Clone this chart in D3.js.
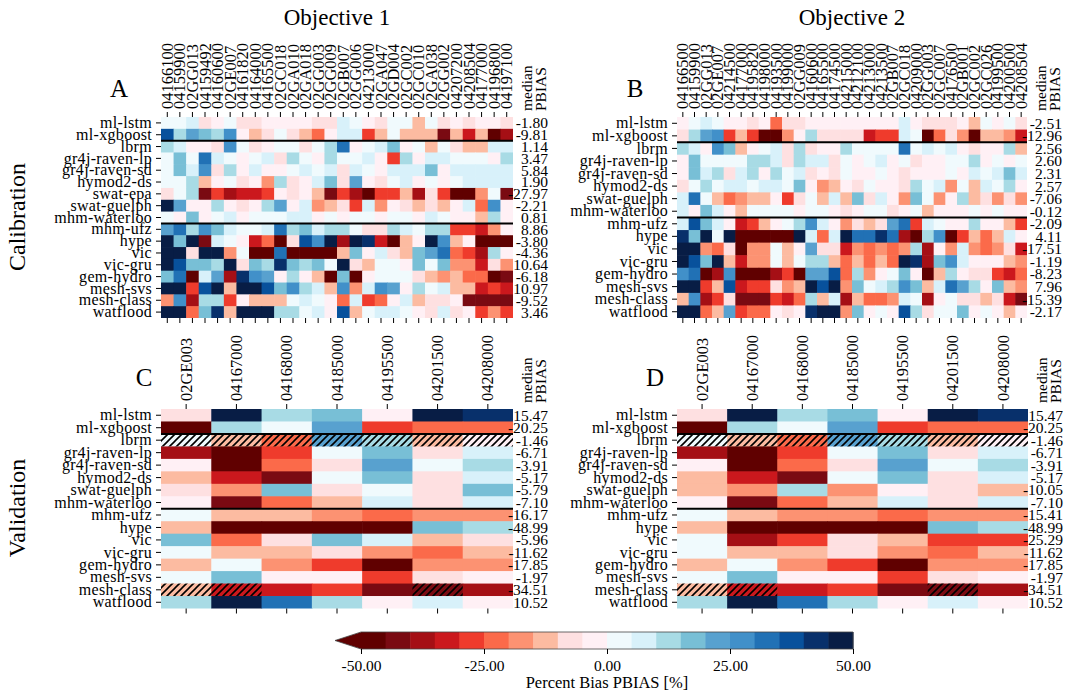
<!DOCTYPE html>
<html><head><meta charset="utf-8">
<script src="https://cdn.jsdelivr.net/npm/d3@7"></script>
<style>body{margin:0;background:#fff} svg text{font-family:"Liberation Serif","DejaVu Serif",serif;}</style>
</head><body><svg id="c" width="1066" height="696"></svg>
<script>
const modelsCal = ["ml-lstm","ml-xgboost","lbrm","gr4j-raven-lp","gr4j-raven-sd","hymod2-ds","swat-epa","swat-guelph","mhm-waterloo","mhm-ufz","hype","vic","vic-gru","gem-hydro","mesh-svs","mesh-class","watflood"];
const modelsVal = ["ml-lstm","ml-xgboost","lbrm","gr4j-raven-lp","gr4j-raven-sd","hymod2-ds","swat-guelph","mhm-waterloo","mhm-ufz","hype","vic","vic-gru","gem-hydro","mesh-svs","mesh-class","watflood"];
const stationsA = ["04166100","04159900","02GG013","04159492","04160600","02GE007","04161820","04164000","04165500","02GC018","02GA010","02GA018","02GG003","02GG009","02GB007","02GG006","04213000","02GA047","02GD004","02GC002","02GC010","02GA038","02GG002","04207200","04208504","04177000","04196800","04197100"];
const stationsB = ["04166500","04159900","02GG013","02GE007","04214500","04177000","04195820","04198000","04193500","04199000","02GG009","04160600","04165500","04174500","04215000","04212100","04213000","04213500","02GB007","02GC018","04209000","02GG003","02GC007","04176500","02GB001","02GC002","02GC026","04199500","04200500","04208504"];
const stationsVal = ["02GE003","04167000","04168000","04185000","04195500","04201500","04208000"];

const pbiasA = [
[3,3,8,-7,-2,3,-7,-7,-2,-2,-2,-2,-7,-7,8,3,-2,-7,3,3,-12,3,-7,-2,-7,-2,-2,-7],
[38,13,23,18,13,28,-2,-12,-7,3,-7,-12,-22,-2,8,8,-27,-12,3,-12,-12,-12,-42,-12,-32,-12,-47,-37],
[13,8,-2,-2,-7,28,3,-7,-2,3,3,-7,3,13,33,-2,3,8,18,-2,3,-12,3,-7,-12,-12,8,8],
[3,18,3,33,8,3,-2,3,8,-7,13,3,-2,13,3,3,8,-2,-27,13,-2,8,8,3,3,3,-2,13],
[3,18,8,28,-7,13,-2,8,-2,-2,3,8,3,8,-7,8,3,-2,8,8,8,18,-2,8,8,8,8,8],
[3,3,13,-12,-2,3,-7,-2,-17,13,-7,-2,8,18,-7,23,-2,-7,3,8,-2,3,-2,3,8,8,8,8],
[-7,3,13,-42,-27,-37,-32,-32,-27,-2,-7,-2,-12,-42,-27,-37,-47,-27,-27,-12,-37,-7,-27,-47,-47,-17,3,-42],
[48,23,-2,-2,13,-2,-7,-2,13,23,-2,8,-17,-12,-7,-27,8,-17,-2,-7,-12,-7,-12,-2,8,-22,28,-2],
[3,-2,18,-2,3,8,-2,3,3,3,8,8,-2,3,-2,3,3,-2,3,3,-2,8,3,-2,-2,-12,13,-2],
[23,33,13,28,18,8,3,3,8,33,13,18,8,13,13,3,-7,-7,13,8,3,13,13,-27,-27,-32,-17,-2],
[48,18,48,-42,8,3,-2,-32,-22,-47,-7,38,28,48,-37,48,43,-32,-47,-12,-2,48,28,-12,-2,-47,-47,-47],
[48,48,-7,48,48,-17,3,-47,-47,33,-47,-47,-47,-47,-12,18,-2,8,-7,-12,18,23,33,-22,-27,-37,13,-2],
[48,38,18,18,13,48,-7,18,13,43,18,13,18,3,48,-7,-12,3,3,-2,18,3,18,-17,-17,-32,-7,-17],
[18,33,-47,8,23,-37,43,28,23,-2,13,-2,-12,-47,18,-47,-2,3,3,3,-7,-12,-17,-12,-22,-22,-47,-42],
[48,48,-27,38,48,-12,48,48,38,18,28,13,8,-12,28,-17,8,28,23,-2,13,3,8,-12,-12,-32,-27,-32],
[-17,28,-37,13,13,-27,-2,-12,-12,-12,3,8,3,-2,-22,8,-27,-22,-2,8,-12,-7,-7,-2,-42,-42,-42,-42],
[48,48,-22,18,43,-12,48,48,48,13,13,3,8,-2,38,-12,3,8,8,3,-2,-7,8,-7,-2,-27,-17,-27]];

const pbiasB = [
[-2,3,8,3,-2,-2,-7,-2,-22,-7,-7,-2,-2,-2,-2,-2,-2,-2,-2,8,-2,-7,-7,-7,-2,-12,3,-2,3,-7],
[-7,13,23,28,-27,-12,-27,-47,-47,-17,-2,13,-7,-7,-7,-7,-32,-27,-27,8,3,-47,-22,-7,-17,-47,-12,-12,-17,-32],
[13,8,-2,28,18,-12,-2,3,8,-7,13,-7,-2,-2,13,3,3,3,3,33,3,8,3,8,-2,-7,-2,-2,13,-12],
[-2,18,3,3,3,3,13,13,8,-7,13,8,8,-7,3,-2,3,8,-2,3,-7,-2,-2,3,3,13,-2,3,-2,3],
[-2,18,8,13,-7,8,13,-2,13,3,8,-7,-2,-7,3,-2,-2,3,-2,-7,-2,-2,-2,3,-2,8,3,8,18,8],
[-7,3,13,3,8,8,3,8,8,3,18,-2,-17,-12,-2,-7,3,-2,-2,-7,13,3,8,-17,3,-12,8,3,13,-2],
[8,33,3,-12,-22,-17,-12,-12,-2,-27,-7,3,-12,8,-12,18,-7,8,-2,-17,18,3,-17,-2,13,-12,-7,-17,-7,-17],
[8,-2,18,8,-2,-12,3,3,3,3,-2,3,3,-2,-7,-2,3,3,-7,-2,3,-12,-2,-2,-2,3,-2,3,-2,-2],
[8,38,18,8,-2,-32,-27,-12,-2,3,13,28,8,-2,-17,-7,-12,-7,23,33,-27,8,3,-2,-2,13,-2,-2,-12,-27],
[43,18,48,3,48,-47,-47,-47,-47,-47,48,8,-22,8,48,33,33,43,33,-37,-47,13,28,-47,-27,-12,-22,-12,8,-2],
[48,48,-17,-22,-7,-47,-17,-17,3,-12,-2,23,-7,-7,-32,-17,-22,-17,-22,-17,13,-37,-2,-17,8,-17,-22,-17,-7,-32],
[48,38,18,48,-12,-32,-17,-17,3,-12,3,13,13,-12,-22,-12,-22,-12,-22,48,43,-37,18,28,8,-2,-2,-2,-12,-17],
[28,33,-47,-37,28,-47,-47,-47,-37,-27,-47,23,23,38,-22,13,-17,-2,3,18,-2,-47,-12,13,-2,-7,-7,-27,-32,-22],
[48,48,-27,-12,38,-32,-27,-27,-7,-17,-12,48,38,48,-17,18,3,8,13,28,18,-12,8,33,23,13,-2,18,-12,-17],
[-12,28,-37,-27,-7,-42,-42,-42,-27,-32,-22,13,-12,8,-37,-12,-22,-22,-17,8,3,-37,-2,3,-7,-7,-12,-7,-32,-42],
[48,48,-22,-12,23,-27,-22,-22,-2,-7,-2,43,48,48,-17,18,-2,3,-2,38,13,-7,3,3,18,-2,3,-2,-12,-2]];

const pbiasC = [
[-7,48,13,18,-2,48,43],
[-47,13,3,23,-27,-22,-22],
[3,-12,-22,23,13,-12,-2],
[-37,-47,-27,3,18,-7,8],
[-2,-47,-22,-7,23,3,13],
[-12,-32,-42,3,18,-7,8],
[-7,-17,18,-7,3,-7,18],
[-2,-42,-22,-12,8,-7,8],
[3,-12,-12,-17,-22,-17,-17],
[-12,-47,-47,-47,-47,18,13],
[18,-22,-7,18,8,-12,-7],
[3,-12,-12,-7,-17,-22,-12],
[-12,3,-17,-27,-47,-17,-17],
[3,18,-2,-2,-27,-7,-2],
[-12,-32,-32,-27,-42,-42,-37],
[13,48,33,13,-2,8,-2]];

const pbiasD = [
[-7,48,13,18,-2,48,43],
[-47,13,3,23,-27,-22,-22],
[3,-12,-22,23,13,-12,-2],
[-37,-47,-27,3,18,-7,8],
[-2,-47,-22,-7,23,3,13],
[-12,-32,-42,3,18,-7,8],
[-12,-17,13,-17,-2,-7,-12],
[-2,-42,-22,-12,8,-7,8],
[3,-12,-17,-17,-22,-17,-17],
[-12,-47,-47,-47,-47,18,13],
[3,-37,-27,-7,-12,-27,-27],
[3,-12,-12,-7,-17,-22,-12],
[-12,3,-17,-27,-47,-17,-17],
[3,18,-2,-2,-27,-7,-2],
[-12,-32,-32,-27,-42,-42,-37],
[13,48,33,13,-2,8,-2]];

const hatchedVal = [[2,0],[2,1],[2,2],[2,3],[2,4],[2,5],[2,6],[14,0],[14,1],[14,5]];

const medianA = [-1.80,-9.81,1.14,3.47,5.84,1.90,-27.97,-2.21,0.81,8.86,-3.80,-4.36,10.64,-6.18,10.97,-9.52,3.46];
const medianB = [-2.51,-12.96,2.56,2.60,2.31,2.57,-7.06,-0.12,-2.09,4.11,-17.51,-1.19,-8.23,7.96,-15.39,-2.17];
const medianC = [15.47,-20.25,-1.46,-6.71,-3.91,-5.17,-5.79,-7.10,-16.17,-48.99,-5.96,-11.62,-17.85,-1.97,-34.51,10.52];
const medianD = [15.47,-20.25,-1.46,-6.71,-3.91,-5.17,-10.05,-7.10,-15.41,-48.99,-25.29,-11.62,-17.85,-1.97,-34.51,10.52];

const binEdges = [-50,-45,-40,-35,-30,-25,-20,-15,-10,-5,0,5,10,15,20,25,30,35,40,45,50];
const binColors = ["#600000","#7a0a12","#a50f15","#cb181d","#ef3b2c","#fb6a4a","#fc9272","#fcbba1","#fee0e1","#fff0f5","#f0fafd","#d8f1fa","#a8dbe5","#78bfd6","#58a1cf","#4190c9","#2171b5","#08519c","#08306b","#081d45"];
const cbarTicks = [-50,-25,0,25,50];

const FONT = '"Liberation Serif","DejaVu Serif",serif';
const svg = d3.select('#c');
const color = d3.scaleThreshold().domain(binEdges.slice(1, -1)).range(binColors);

const defs = svg.append('defs');
const hp = defs.append('pattern').attr('id','hatch').attr('patternUnits','userSpaceOnUse')
  .attr('width',7).attr('height',7);
hp.append('path').attr('d','M0,7 L7,0 M-1.75,1.75 L1.75,-1.75 M5.25,8.75 L8.75,5.25')
  .attr('stroke','#000').attr('stroke-width',1.6);

function drawPanel(p) {
  const nR = p.rows.length, nC = p.cols.length;
  const x = d3.scaleBand().domain(d3.range(nC)).range([p.x0, p.x0 + p.w]);
  const y = d3.scaleBand().domain(d3.range(nR)).range([p.y0, p.y0 + p.h]);
  const g = svg.append('g');
  const cells = [];
  p.vals.forEach((row, i) => row.forEach((v, j) => cells.push({i, j, v})));
  g.selectAll('rect.cell').data(cells).join('rect').attr('class','cell')
    .attr('x', d => x(d.j)).attr('y', d => y(d.i))
    .attr('width', d => x.bandwidth() + (d.j < nC - 1 ? 0.6 : 0))
    .attr('height', d => y.bandwidth() + (d.i < nR - 1 ? 0.6 : 0))
    .attr('fill', d => color(d.v));
  if (p.hatch) {
    g.selectAll('rect.hatch').data(p.hatch).join('rect').attr('class','hatch')
      .attr('x', d => x(d[1])).attr('y', d => y(d[0]))
      .attr('width', x.bandwidth()).attr('height', y.bandwidth())
      .attr('fill', 'url(#hatch)');
  }
  p.seps.forEach(k => g.append('line')
    .attr('x1', p.x0).attr('x2', p.x0 + p.w).attr('y1', y(k)).attr('y2', y(k))
    .attr('stroke', '#000').attr('stroke-width', 2));

  const al = g.append('g').attr('transform', `translate(${p.x0},0)`)
    .call(d3.axisLeft(y).tickSize(5).tickPadding(4).tickFormat(i => p.rows[i]));
  al.select('.domain').remove();
  al.attr('font-family', null).attr('font-size', null);
  al.selectAll('text').style('font-family', FONT).style('font-size', '16px').style('letter-spacing','0.3px');

  const at = g.append('g').attr('transform', `translate(0,${p.y0})`)
    .call(d3.axisTop(x).tickSize(5).tickFormat(j => p.cols[j]));
  at.select('.domain').remove();
  at.attr('font-family', null).attr('font-size', null);
  at.selectAll('text').attr('transform', 'rotate(-90)').attr('x', 8).attr('y', 0).attr('dy', '0.34em')
    .style('text-anchor', 'start').style('font-family', FONT).style('font-size', '16.5px');

  const ab = g.append('g').attr('transform', `translate(0,${p.y0 + p.h})`)
    .call(d3.axisBottom(x).tickSize(5).tickFormat(''));
  ab.select('.domain').remove();

  g.selectAll('text.med').data(p.meds).join('text').attr('class','med')
    .attr('x', p.x0 + p.w + 35).attr('y', (d, i) => y(i) + y.bandwidth() / 2).attr('dy', '0.35em')
    .attr('text-anchor', 'end').style('font-family', FONT).style('font-size', '15.5px')
    .text(d => d.toFixed(2));

  ["median", "PBIAS"].forEach((t, k) => g.append('text')
    .attr('transform', `translate(${p.x0 + p.w + 14 + k * 14},${p.y0 - 6}) rotate(-90)`)
    .attr('dy', '0.35em').attr('text-anchor', 'start')
    .style('font-family', FONT).style('font-size', '15.5px').text(t));

  g.append('text').attr('x', p.x0 + p.letterDx).attr('y', p.letterY).attr('text-anchor', 'middle')
    .style('font-family', FONT).style('font-size', '25px').text(p.letter);
  if (p.title) g.append('text').attr('x', p.x0 + p.w / 2).attr('y', 25).attr('text-anchor', 'middle')
    .style('font-family', FONT).style('font-size', '23px').text(p.title);
}

drawPanel({x0:161, y0:117, w:352, h:201, rows:modelsCal, cols:stationsA, vals:pbiasA, meds:medianA, seps:[2,9], letter:'A', letterDx:-42, letterY:97, title:'Objective 1'});
drawPanel({x0:677, y0:117, w:350, h:201, rows:modelsVal, cols:stationsB, vals:pbiasB, meds:medianB, seps:[2,8], letter:'B', letterDx:-42, letterY:97, title:'Objective 2'});
drawPanel({x0:161, y0:409, w:352, h:199.5, rows:modelsVal, cols:stationsVal, vals:pbiasC, meds:medianC, seps:[2,8], letter:'C', letterDx:-17, letterY:386, hatch:hatchedVal});
drawPanel({x0:677, y0:409, w:351, h:199.5, rows:modelsVal, cols:stationsVal, vals:pbiasD, meds:medianD, seps:[2,8], letter:'D', letterDx:-22, letterY:386, hatch:hatchedVal});

[["Calibration", 217], ["Validation", 508]].forEach(([t, cy]) => svg.append('text')
  .attr('transform', `translate(25,${cy}) rotate(-90)`).attr('text-anchor', 'middle')
  .style('font-family', FONT).style('font-size', '24px').text(t));

// colorbar
const cb = svg.append('g');
const cx = d3.scaleLinear().domain([-50, 50]).range([361, 853]);
const cbY = 632, cbH = 17;
cb.selectAll('rect').data(d3.range(binColors.length)).join('rect')
  .attr('x', i => cx(binEdges[i])).attr('y', cbY)
  .attr('width', i => cx(binEdges[i + 1]) - cx(binEdges[i]) + 0.5).attr('height', cbH)
  .attr('fill', i => binColors[i]);
cb.append('path').attr('d', `M${cx(-50) + 0.5},${cbY} L${cx(-50) - 26},${cbY + cbH / 2} L${cx(-50) + 0.5},${cbY + cbH} Z`)
  .attr('fill', binColors[0]);
cb.append('path').attr('d', `M${cx(-50)},${cbY} L${cx(50)},${cbY} L${cx(50)},${cbY + cbH} L${cx(-50)},${cbY + cbH} L${cx(-50) - 26},${cbY + cbH / 2} Z`)
  .attr('fill', 'none').attr('stroke', '#444').attr('stroke-width', 0.8);
const cax = cb.append('g').attr('transform', `translate(0,${cbY + cbH})`)
  .call(d3.axisBottom(cx).tickValues(cbarTicks).tickSize(5).tickPadding(6).tickFormat(d => d.toFixed(2)));
cax.select('.domain').remove();
cax.attr('font-family', null).attr('font-size', null);
cax.selectAll('text').style('font-family', FONT).style('font-size', '15.5px');
cb.append('text').attr('x', cx(0)).attr('y', 688).attr('text-anchor', 'middle')
  .style('font-family', FONT).style('font-size', '16.5px').text('Percent Bias PBIAS [%]');
</script></body></html>
